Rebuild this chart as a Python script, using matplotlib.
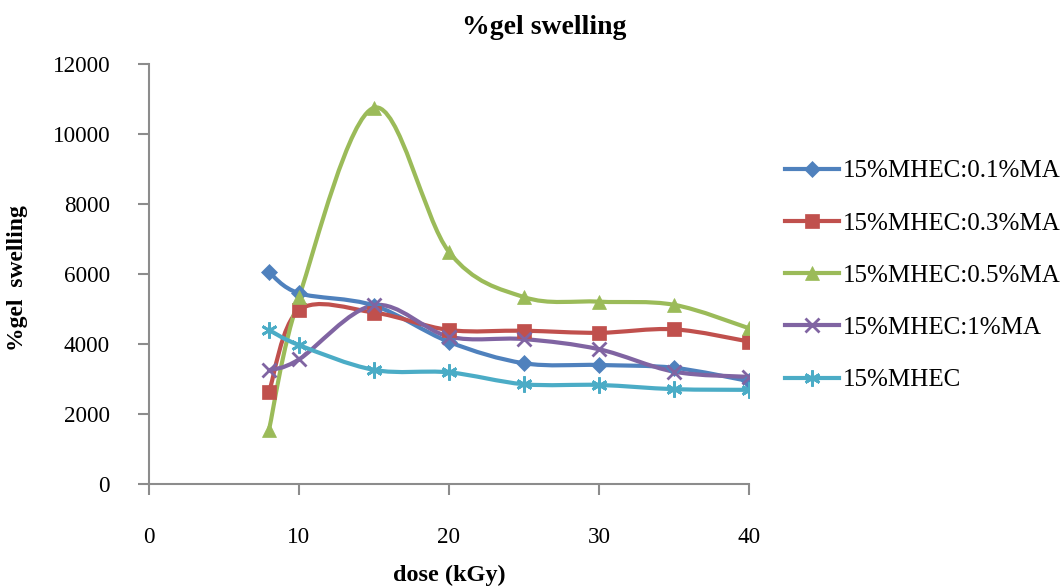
import matplotlib
matplotlib.use('Agg')
import matplotlib.pyplot as plt
from matplotlib.path import Path
from matplotlib.patches import PathPatch
from matplotlib.lines import Line2D

# --- dados ---
dose = [8, 10, 15, 20, 25, 30, 35, 40]
ma01 = [6050, 5450, 5100, 4060, 3450, 3400, 3320, 2940]
ma03 = [2630, 4970, 4900, 4400, 4380, 4320, 4420, 4070]
ma05 = [1550, 5330, 10750, 6630, 5340, 5210, 5120, 4450]
ma1 = [3250, 3560, 5110, 4210, 4140, 3850, 3210, 3060]
mhec = [4400, 3970, 3260, 3190, 2850, 2830, 2710, 2690]

series = [
    ('15%MHEC:0.1%MA', ma01, '#4F81BD', 'D', 8.5),
    ('15%MHEC:0.3%MA', ma03, '#C0504D', 's', 10),
    ('15%MHEC:0.5%MA', ma05, '#9BBB59', '^', 10.5),
    ('15%MHEC:1%MA', ma1, '#8064A2', 'x', 9.5),
    ('15%MHEC', mhec, '#4BACC6', (6, 2, 0), 11.5),
]

y_ticks = [0, 2000, 4000, 6000, 8000, 10000, 12000]
x_ticks = [0, 10, 20, 30, 40]

COR_EIXO = '#8C8C8C'
FONTE = 'Liberation Serif'
LW = 3.0


def curva_suave(xs, ys):
    # linha suavizada tipo Excel (Catmull-Rom -> Bezier)
    pts = list(zip(xs, ys))
    verts = [pts[0]]
    codes = [Path.MOVETO]
    n = len(pts)
    for i in range(n - 1):
        p0 = pts[i - 1] if i > 0 else pts[i]
        p1 = pts[i]
        p2 = pts[i + 1]
        p3 = pts[i + 2] if i + 2 < n else pts[i + 1]
        c1 = (p1[0] + (p2[0] - p0[0]) / 6, p1[1] + (p2[1] - p0[1]) / 6)
        c2 = (p2[0] - (p3[0] - p1[0]) / 6, p2[1] - (p3[1] - p1[1]) / 6)
        verts += [c1, c2, p2]
        codes += [Path.CURVE4] * 3
    return Path(verts, codes)


fig = plt.figure(figsize=(10.64, 5.88), dpi=100)
ax = fig.add_axes([149 / 1064, 104 / 588, 600 / 1064, 420 / 588])

handles = []
for nome, vals, cor, mk, ms in series:
    ax.add_patch(PathPatch(curva_suave(dose, vals), fill=False, edgecolor=cor,
                           linewidth=LW, capstyle='round', joinstyle='round', zorder=2))
    mew = 2.0 if mk in ('x', (6, 2, 0)) else 0.5
    ax.plot(dose, vals, linestyle='none', marker=mk, markersize=ms, color=cor,
            markeredgecolor=cor, markeredgewidth=mew, zorder=3)
    handles.append(Line2D([0], [0], color=cor, linewidth=LW, marker=mk, markersize=ms,
                          markeredgecolor=cor, markeredgewidth=mew, label=nome))

ax.set_xlim(0, 40)
ax.set_ylim(0, 12000)
ax.set_xticks(x_ticks)
ax.set_yticks(y_ticks)
ax.set_xticklabels([str(v) for v in x_ticks], fontsize=16.7, family=FONTE)
ax.set_yticklabels([str(v) for v in y_ticks], fontsize=16.7, family=FONTE)

for spine in ['top', 'right']:
    ax.spines[spine].set_visible(False)
for spine in ['left', 'bottom']:
    ax.spines[spine].set_color(COR_EIXO)
    ax.spines[spine].set_linewidth(1.5)
ax.tick_params(axis='both', direction='out', length=8, width=1.5, color=COR_EIXO)
ax.tick_params(axis='x', pad=23)
ax.tick_params(axis='y', pad=20)

fig.text(544 / 1064, 1 - 27 / 588, '%gel swelling', ha='center', va='center',
         fontsize=20, fontweight='bold', family=FONTE)
fig.text(449 / 1064, 1 - 575 / 588, 'dose (kGy)', ha='center', va='center',
         fontsize=17.5, fontweight='bold', family=FONTE)
fig.text(18 / 1064, 1 - 278 / 588, '%gel  swelling', ha='center', va='center',
         rotation=90, fontsize=17, fontweight='bold', family=FONTE)

leg = fig.legend(handles=handles, loc='center left', bbox_to_anchor=(785 / 1064, 1 - 275.5 / 588),
                 frameon=False, prop={'family': FONTE, 'size': 18}, handlelength=2.15,
                 handletextpad=0.15, labelspacing=1.19, borderpad=0, borderaxespad=0)

fig.savefig('out.png', dpi=100)
